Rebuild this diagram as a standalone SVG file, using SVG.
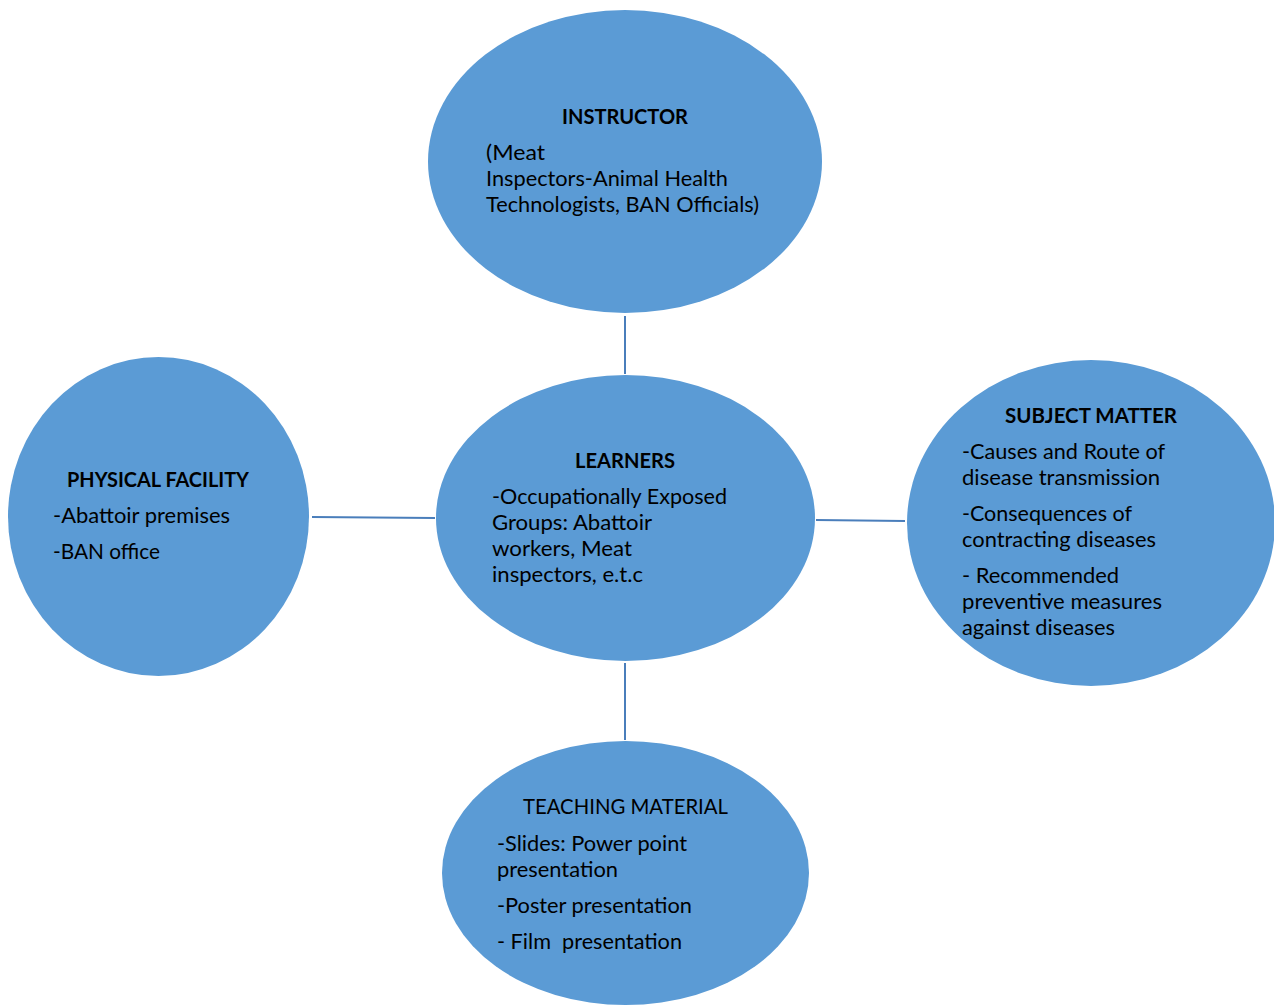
<svg xmlns="http://www.w3.org/2000/svg" width="1274" height="1006" viewBox="0 0 1274 1006">
<style>
.node{fill:#5b9bd5;stroke:none}
.conn{stroke:#4a7ebb;stroke-width:2;fill:none}
text{font-family:Lato,"Open Sans","Liberation Sans",sans-serif;font-size:21px;fill:#000000}
.b{font-weight:bold}
.c{text-anchor:middle}
.pre{white-space:pre}
</style>
<rect width="1274" height="1006" fill="#ffffff"/>
<g id="connectors">
<line class="conn" x1="625" y1="316" x2="625" y2="374"/>
<line class="conn" x1="312" y1="517" x2="435" y2="518"/>
<line class="conn" x1="816" y1="520" x2="905" y2="521"/>
<line class="conn" x1="625" y1="663" x2="625" y2="740"/>
</g>
<g id="instructor">
<ellipse class="node" cx="625" cy="161.5" rx="197" ry="151.5"/>
<text class="b c" x="625" y="124" textLength="126" lengthAdjust="spacingAndGlyphs">INSTRUCTOR</text>
<text x="486" y="160" textLength="59" lengthAdjust="spacingAndGlyphs">(Meat</text>
<text x="486" y="186" textLength="242" lengthAdjust="spacingAndGlyphs">Inspectors-Animal Health</text>
<text x="486" y="212" textLength="273" lengthAdjust="spacingAndGlyphs">Technologists, BAN Officials)</text>
</g>
<g id="physical-facility">
<ellipse class="node" cx="158.5" cy="516.5" rx="150.5" ry="159.5"/>
<text class="b c" x="158" y="487" textLength="182" lengthAdjust="spacingAndGlyphs">PHYSICAL FACILITY</text>
<text x="53" y="523" textLength="177" lengthAdjust="spacingAndGlyphs">-Abattoir premises</text>
<text x="53" y="559" textLength="107" lengthAdjust="spacingAndGlyphs">-BAN office</text>
</g>
<g id="learners">
<ellipse class="node" cx="625.5" cy="518" rx="189.5" ry="143"/>
<text class="b c" x="625" y="468" textLength="100" lengthAdjust="spacingAndGlyphs">LEARNERS</text>
<text x="492" y="504" textLength="235" lengthAdjust="spacingAndGlyphs">-Occupationally Exposed</text>
<text x="492" y="530" textLength="160" lengthAdjust="spacingAndGlyphs">Groups: Abattoir</text>
<text x="492" y="556" textLength="140" lengthAdjust="spacingAndGlyphs">workers, Meat</text>
<text x="492" y="582" textLength="151" lengthAdjust="spacingAndGlyphs">inspectors, e.t.c</text>
</g>
<g id="subject-matter">
<ellipse class="node" cx="1091" cy="523" rx="184" ry="163"/>
<text class="b c" x="1091" y="423" textLength="172" lengthAdjust="spacingAndGlyphs">SUBJECT MATTER</text>
<text x="962" y="459" textLength="203" lengthAdjust="spacingAndGlyphs">-Causes and Route of</text>
<text x="962" y="485" textLength="198" lengthAdjust="spacingAndGlyphs">disease transmission</text>
<text x="962" y="521" textLength="170" lengthAdjust="spacingAndGlyphs">-Consequences of</text>
<text x="962" y="547" textLength="194" lengthAdjust="spacingAndGlyphs">contracting diseases</text>
<text x="962" y="583" textLength="157" lengthAdjust="spacingAndGlyphs">- Recommended</text>
<text x="962" y="609" textLength="200" lengthAdjust="spacingAndGlyphs">preventive measures</text>
<text x="962" y="635" textLength="153" lengthAdjust="spacingAndGlyphs">against diseases</text>
</g>
<g id="teaching-material">
<ellipse class="node" cx="625.5" cy="873" rx="183.5" ry="132"/>
<text class="c" x="625.5" y="814" textLength="205" lengthAdjust="spacingAndGlyphs">TEACHING MATERIAL</text>
<text x="497" y="851" textLength="190" lengthAdjust="spacingAndGlyphs">-Slides: Power point</text>
<text x="497" y="877" textLength="121" lengthAdjust="spacingAndGlyphs">presentation</text>
<text x="497" y="913" textLength="195" lengthAdjust="spacingAndGlyphs">-Poster presentation</text>
<text class="pre" x="497" y="949" textLength="185" lengthAdjust="spacingAndGlyphs" xml:space="preserve">- Film  presentation</text>
</g>
</svg>
